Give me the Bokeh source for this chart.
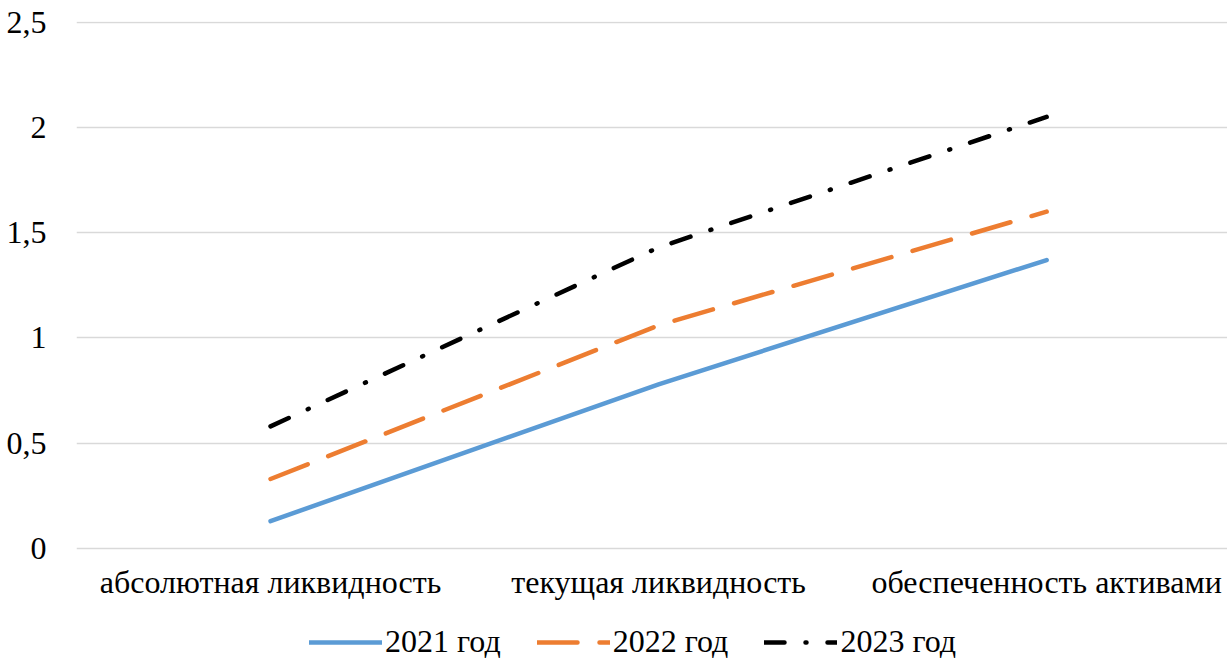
from bokeh.plotting import figure
from bokeh.models import Range1d, FixedTicker, Legend, LegendItem, ColumnDataSource
from bokeh.embed import file_html
from bokeh.resources import INLINE

categories = ["абсолютная ликвидность", "текущая ликвидность", "обеспеченность активами"]
series_names = ["2021 год", "2022 год", "2023 год"]
v2021 = [0.13, 0.78, 1.37]
v2022 = [0.33, 1.06, 1.60]
v2023 = [0.58, 1.43, 2.05]
y_ticks = [0, 0.5, 1, 1.5, 2, 2.5]
y_tick_labels = ["0", "0,5", "1", "1,5", "2", "2,5"]

FONT = "Liberation Serif"
FS = "32px"
LFS = "32px"

xs = list(range(len(categories)))

p = figure(frame_width=1151, frame_height=640, output_backend="svg", toolbar_location=None,
           x_range=Range1d(-0.5, 2.466), y_range=Range1d(-0.5367, 2.503),
           min_border_left=76, min_border_top=21, min_border_right=0, min_border_bottom=0)
p.outline_line_color = None
p.background_fill_color = "white"

styles = [
    (v2021, "#5b9bd5", "solid"),
    (v2022, "#ed7d31", "40 22"),
    (v2023, "#000000", "20 21 1 21"),
]
renderers = []
for vals, color, dash in styles:
    src = ColumnDataSource(dict(x=xs, y=vals))
    r = p.line("x", "y", source=src, line_color=color, line_width=4.5, line_dash=dash,
               line_cap="round", line_join="round")
    renderers.append(r)

p.xaxis.ticker = FixedTicker(ticks=xs)
p.xaxis.major_label_overrides = {i: c for i, c in zip(xs, categories)}
p.xaxis.fixed_location = 0
p.yaxis.ticker = FixedTicker(ticks=y_ticks)
p.yaxis.major_label_overrides = {t: l for t, l in zip(y_ticks, y_tick_labels)}

for ax in (p.xaxis, p.yaxis):
    ax.major_tick_line_color = None
    ax.minor_tick_line_color = None
    ax.axis_line_color = None
    ax.major_label_text_font = FONT
    ax.major_label_text_font_size = FS
    ax.major_label_text_color = "#000000"
p.xaxis.major_label_standoff = 10
p.yaxis.major_label_standoff = 24

p.xgrid.grid_line_color = None
p.ygrid.grid_line_color = "#d9d9d9"
p.ygrid.grid_line_width = 1.5

legend = Legend(items=[LegendItem(label=n, renderers=[r]) for n, r in zip(series_names, renderers)],
                orientation="horizontal", location=(233, 1),
                label_text_font=FONT, label_text_font_size=LFS, label_text_color="#000000",
                glyph_width=73, label_standoff=3, spacing=36, padding=0, margin=0,
                border_line_color=None, background_fill_alpha=0)
p.add_layout(legend, "center")

open("out.html", "w").write(file_html(p, INLINE))
